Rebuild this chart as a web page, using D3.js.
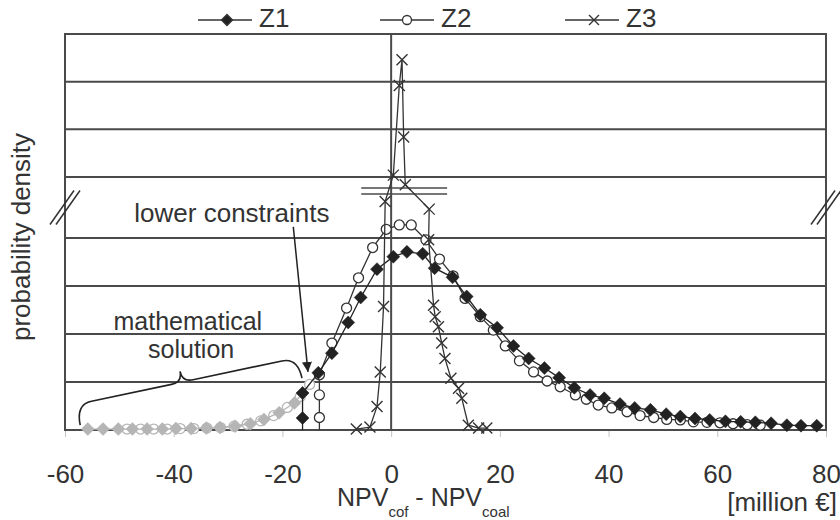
<!DOCTYPE html>
<html>
<head>
<meta charset="utf-8">
<script src="https://cdn.jsdelivr.net/npm/d3@7"></script>
<style>
	body { margin: 0; background: #fff; }
	svg { display: block; font-family: "Liberation Sans", Arial, sans-serif; }
</style>
</head>
<body>
<div id="chart"></div>
<script>
var xTicks = [-60, -40, -20, 0, 20, 40, 60, 80]
var seriesNames = ['Z1', 'Z2', 'Z3']
// gridlines: lower part in plain units, upper part (after the break) compressed
var gridValues = [1, 2, 3, 4, 10, 15, 20]

// Z1, black diamonds, starting at its lower constraint
var z1X = [-16.3, -16.3, -13.4, -10.9, -7.9, -5.6, -2.6, 0.4, 2.9, 5.8, 8.0, 11.3, 13.9, 16.4, 19.5, 22.5, 25.3, 28.2, 30.9, 33.7, 36.6, 39.2, 42.1, 44.8, 47.7, 50.6, 53.2, 55.9, 58.6, 61.5, 64.3, 67.0, 69.9, 72.8, 75.4, 78.3]
var z1Y = [0.25, 0.77, 1.19, 1.60, 2.24, 2.76, 3.35, 3.61, 3.71, 3.67, 3.37, 3.18, 2.78, 2.40, 2.13, 1.75, 1.49, 1.29, 1.09, 0.88, 0.73, 0.66, 0.54, 0.46, 0.42, 0.33, 0.28, 0.24, 0.21, 0.18, 0.17, 0.16, 0.14, 0.10, 0.09, 0.09]

// Z2, open circles
var z2X = [-13.2, -13.2, -13.2, -10.9, -8.2, -6.0, -3.4, -0.9, 1.5, 3.7, 6.4, 8.9, 11.4, 13.6, 16.4, 18.8, 21.0, 23.6, 26.2, 28.7, 31.1, 33.9, 35.9, 38.1, 40.6, 43.4, 45.8, 48.3, 50.7, 53.2, 55.6, 58.1, 60.5, 62.9, 65.5, 67.9]
var z2Y = [0.26, 0.73, 1.15, 1.81, 2.54, 3.17, 3.80, 4.18, 4.27, 4.27, 3.96, 3.56, 3.21, 2.74, 2.36, 2.08, 1.75, 1.44, 1.21, 1.02, 0.90, 0.73, 0.64, 0.52, 0.46, 0.38, 0.30, 0.26, 0.22, 0.21, 0.17, 0.16, 0.15, 0.13, 0.11, 0.10]

// Z3, crosses (peak is above the axis break)
var z3X = [-6.4, -3.9, -2.6, -2.0, -1.4, -1.1, 0.4, 1.5, 2.0, 2.3, 2.6, 7.0, 6.9, 7.8, 8.1, 8.7, 9.3, 9.9, 11.0, 12.4, 13.0, 14.2, 16.1, 17.6]
var z3Y = [0.02, 0.06, 0.49, 1.21, 2.57, 4.76, 10.2, 19.6, 22.3, 14.2, 9.2, 4.6, 3.96, 2.60, 2.36, 2.15, 1.81, 1.49, 1.08, 0.87, 0.66, 0.10, 0.04, 0.04]

// unconstrained "mathematical solution" (grey)
var g1X = [-55.8, -53.0, -50.2, -47.6, -44.9, -42.1, -39.6, -36.8, -34.0, -31.5, -28.7, -25.9, -23.4, -20.6, -17.8, -16.3]
var g1Y = [0.02, 0.02, 0.02, 0.02, 0.02, 0.02, 0.03, 0.03, 0.04, 0.05, 0.08, 0.13, 0.22, 0.36, 0.56, 0.77]
var g2X = [-48.6, -46.1, -43.7, -41.2, -38.8, -36.3, -33.9, -31.4, -28.9, -26.5, -24.0, -21.6, -19.1, -16.7, -15.0, -13.2]
var g2Y = [0.02, 0.02, 0.02, 0.02, 0.03, 0.03, 0.04, 0.05, 0.08, 0.12, 0.19, 0.30, 0.47, 0.70, 0.95, 1.15]

function zip(xs, ys) {
	return xs.map(function(v, i) { return {x: v, y: ys[i]} })
}

var width = 840, height = 520
var margin = {top: 34, right: 14, bottom: 90, left: 65}
var dark = '#333'
var grid = '#4a4a4a'
var grey = '#b5b5b5'

var svg = d3.select('#chart').append('svg')
	.attr('width', width)
	.attr('height', height)

var x = d3.scaleLinear()
	.domain([-60, 80])
	.range([margin.left, width - margin.right])

// broken axis: a short gap between 5.04 and 8.22
var y = d3.scaleLinear()
	.domain([0, 5.04, 8.22, 25])
	.range([height - margin.bottom, 188, 194, margin.top])

// x ticks
var xAxis = svg.append('g')
	.attr('transform', 'translate(0,' + y(0) + ')')
	.call(
		d3.axisBottom(x)
			.tickValues(xTicks)
			.tickSize(7)
			.tickPadding(28)
			.tickFormat(function(d) { return String(d) })
	)
xAxis.select('.domain').remove()
xAxis.selectAll('line').attr('stroke', '#c4c4c4')
xAxis.selectAll('text')
	.attr('fill', dark)
	.style('font-size', '26px')
	.style('font-family', '"Liberation Sans", Arial, sans-serif')

// gridlines
svg.append('g').selectAll('line')
	.data(gridValues)
	.enter().append('line')
	.attr('x1', x(-60)).attr('x2', x(80))
	.attr('y1', function(d) { return y(d) })
	.attr('y2', function(d) { return y(d) })
	.attr('stroke', grid)
	.attr('stroke-width', 2)

// frame
svg.append('rect')
	.attr('x', x(-60)).attr('y', y(25))
	.attr('width', x(80) - x(-60))
	.attr('height', y(0) - y(25))
	.attr('fill', 'none')
	.attr('stroke', grid)
	.attr('stroke-width', 2)

// vertical line at zero
svg.append('line')
	.attr('x1', x(0)).attr('x2', x(0))
	.attr('y1', y(25)).attr('y2', y(0))
	.attr('stroke', grid)
	.attr('stroke-width', 2)

// break marks on the side axes
var yBreak = (y(4) + y(10)) / 2
;[x(-60), x(80)].forEach(function(cx) {
	[-3, 3].forEach(function(off) {
		svg.append('line')
			.attr('x1', cx - 12 + off).attr('y1', yBreak + 17)
			.attr('x2', cx + 12 + off).attr('y2', yBreak - 17)
			.attr('stroke', dark)
			.attr('stroke-width', 1.5)
	})
})
// break lines across the Z3 peak
;[5.04, 8.22].forEach(function(v) {
	svg.append('line')
		.attr('x1', x(-5.5)).attr('x2', x(10.3))
		.attr('y1', y(v)).attr('y2', y(v))
		.attr('stroke', grid)
		.attr('stroke-width', 1.5)
})

var line = d3.line()
	.x(function(d) { return x(d.x) })
	.y(function(d) { return y(d.y) })

function diamond(s) { return 'M0,' + (-s) + 'L' + s + ',0L0,' + s + 'L' + (-s) + ',0Z' }
function cross(s) { return 'M' + (-s) + ',' + (-s) + 'L' + s + ',' + s + 'M' + (-s) + ',' + s + 'L' + s + ',' + (-s) }

function drawSeries(points, kind, color, dropToZero) {
	var linePts = dropToZero ? [{x: points[0].x, y: 0}].concat(points) : points
	svg.append('path')
		.datum(linePts)
		.attr('d', line)
		.attr('fill', 'none')
		.attr('stroke', color)
		.attr('stroke-width', 1.3)

	var g = svg.append('g')
	if (kind == 'circle') {
		g.selectAll('circle').data(points).enter().append('circle')
			.attr('cx', function(d) { return x(d.x) })
			.attr('cy', function(d) { return y(d.y) })
			.attr('r', 5)
			.attr('fill', '#fff')
			.attr('stroke', color)
			.attr('stroke-width', 1.3)
	} else {
		g.selectAll('path').data(points).enter().append('path')
			.attr('transform', function(d) { return 'translate(' + x(d.x) + ',' + y(d.y) + ')' })
			.attr('d', kind == 'diamond' ? diamond(6.5) : cross(5.5))
			.attr('fill', kind == 'diamond' ? color : 'none')
			.attr('stroke', color)
			.attr('stroke-width', kind == 'diamond' ? 0.5 : 1.4)
	}
}

drawSeries(zip(g2X, g2Y), 'circle', grey, false)
drawSeries(zip(g1X, g1Y), 'diamond', grey, false)
drawSeries(zip(z2X, z2Y), 'circle', dark, true)
drawSeries(zip(z1X, z1Y), 'diamond', '#222', true)
drawSeries(zip(z3X, z3Y), 'cross', dark, false)

// legend
var legendX = [198, 380, 565]
var legendKinds = ['diamond', 'circle', 'cross']
var legend = svg.append('g').selectAll('g')
	.data(seriesNames)
	.enter().append('g')
	.attr('transform', function(d, i) { return 'translate(' + legendX[i] + ',20)' })
legend.append('line')
	.attr('x1', 0).attr('x2', 54)
	.attr('stroke', dark).attr('stroke-width', 1.5)
legend.each(function(d, i) {
	var g = d3.select(this)
	if (legendKinds[i] == 'circle') {
		g.append('circle').attr('cx', 27).attr('r', 4.5)
			.attr('fill', '#fff').attr('stroke', dark).attr('stroke-width', 1.3)
	} else {
		g.append('path').attr('transform', 'translate(29,0)')
			.attr('d', legendKinds[i] == 'diamond' ? diamond(5.5) : cross(5))
			.attr('fill', legendKinds[i] == 'diamond' ? '#222' : 'none')
			.attr('stroke', dark).attr('stroke-width', 1.4)
	}
})
legend.append('text')
	.attr('x', 61).attr('y', 7)
	.attr('fill', dark)
	.style('font-size', '26px')
	.text(function(d) { return d })

// axis titles
svg.append('text')
	.attr('transform', 'translate(30,' + ((y(0) + y(25)) / 2 + 5) + ') rotate(-90)')
	.attr('text-anchor', 'middle')
	.attr('fill', dark)
	.style('font-size', '26px')
	.text('probability density')

var xt = svg.append('text')
	.attr('x', 337).attr('y', 506)
	.attr('fill', dark)
	.style('font-size', '25px')
xt.append('tspan').text('NPV')
xt.append('tspan').attr('dy', 11).style('font-size', '15px').text('cof')
xt.append('tspan').attr('dy', -11).text(' - NPV')
xt.append('tspan').attr('dy', 11).style('font-size', '15px').text('coal')

svg.append('text')
	.attr('x', 837).attr('y', 511)
	.attr('text-anchor', 'end')
	.attr('fill', dark)
	.style('font-size', '26px')
	.text('[million €]')

// annotations
svg.append('defs').append('marker')
	.attr('id', 'arrow')
	.attr('viewBox', '0 0 10 10')
	.attr('refX', 10).attr('refY', 5)
	.attr('markerWidth', 10).attr('markerHeight', 10)
	.attr('markerUnits', 'userSpaceOnUse')
	.attr('orient', 'auto')
	.append('path')
	.attr('d', 'M0,0L10,5L0,10Z')
	.attr('fill', '#222')

svg.append('line')
	.attr('x1', x(-18.0)).attr('y1', y(4.23))
	.attr('x2', x(-15.3)).attr('y2', y(1.21))
	.attr('stroke', '#222')
	.attr('stroke-width', 1.5)
	.attr('marker-end', 'url(#arrow)')

svg.append('text')
	.attr('x', x(-29.3)).attr('y', y(4.33))
	.attr('text-anchor', 'middle')
	.attr('fill', dark)
	.style('font-size', '26px')
	.text('lower constraints')

svg.append('text')
	.attr('x', x(-37.4)).attr('y', y(2.08))
	.attr('text-anchor', 'middle')
	.attr('fill', dark)
	.style('font-size', '25px')
	.text('mathematical')
svg.append('text')
	.attr('x', x(-36.8)).attr('y', y(1.50))
	.attr('text-anchor', 'middle')
	.attr('fill', dark)
	.style('font-size', '25px')
	.text('solution')

// curly brace over the grey part, drawn in a frame rotated along its chord
function bracePath(len, h, r, t, mid) {
	var m = len * mid
	return 'M0,0Q0,' + (-h) + ' ' + r + ',' + (-h) +
		'L' + (m - t) + ',' + (-h) +
		'Q' + m + ',' + (-h) + ' ' + m + ',' + (-h - t) +
		'Q' + m + ',' + (-h) + ' ' + (m + t) + ',' + (-h) +
		'L' + (len - r) + ',' + (-h) +
		'Q' + len + ',' + (-h) + ' ' + len + ',0'
}
var bx1 = x(-57.2), by1 = y(0.1), bx2 = x(-16.4), by2 = y(1.08)
var bLen = Math.sqrt((bx2 - bx1) * (bx2 - bx1) + (by2 - by1) * (by2 - by1))
var bAngle = Math.atan2(by2 - by1, bx2 - bx1) * 180 / Math.PI
svg.append('path')
	.attr('transform', 'translate(' + bx1 + ',' + by1 + ') rotate(' + bAngle + ')')
	.attr('d', bracePath(bLen, 21, 16, 11, 0.48))
	.attr('fill', 'none')
	.attr('stroke', '#222')
	.attr('stroke-width', 1.6)
</script>
</body>
</html>
